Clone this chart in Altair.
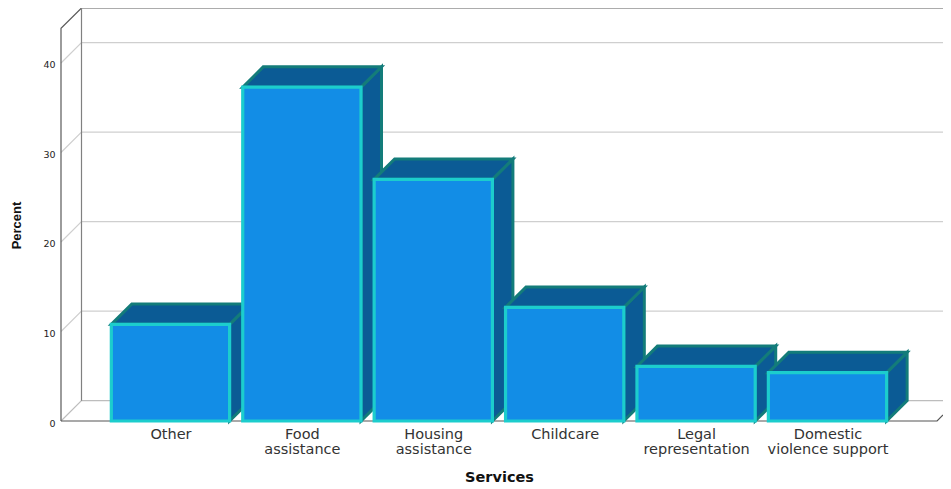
import altair as alt
import pandas as pd

categories = ["Other", "Food\nassistance", "Housing\nassistance", "Childcare",
              "Legal\nrepresentation", "Domestic\nviolence support"]
percents = [10.8, 37.3, 27.0, 12.7, 6.1, 5.4]
y_ticks = [0, 10, 20, 30, 40]

# depth of the pseudo-3D projection and frame limits, in axis units
DX, DY = 0.156, 2.27
HALF = 0.45
X_MIN, X_MAX = -0.833, 5.879
Y_MAX = 46.145
WALL_TOP = Y_MAX - DY
FLOOR_END = 5.834

# --- frame: one polyline per segment
frame = []
def seg(name, kind, pts):
    for i, (x, y) in enumerate(pts):
        frame.append({"seg": name, "kind": kind, "x": x, "y": y, "i": i})

for t in y_ticks[1:]:
    seg(f"g{t}", "grid", [(X_MIN, t), (X_MIN + DX, t + DY), (X_MAX, t + DY)])
seg("floorback", "floor", [(X_MIN, 0), (X_MIN + DX, DY), (X_MAX, DY)])
seg("floorfront", "front", [(X_MIN, 0), (FLOOR_END, 0), (X_MAX, 0.67)])
seg("left", "axis", [(X_MIN, 0), (X_MIN, WALL_TOP), (X_MIN + DX, Y_MAX), (X_MAX, Y_MAX)])
seg("back", "axis2", [(X_MIN + DX, DY), (X_MIN + DX, Y_MAX)])
frame_df = pd.DataFrame(frame)

# --- bars
faces, fronts = [], []
for i, v in enumerate(percents):
    x0, x1 = i - HALF, i + HALF
    fronts.append({"x": x0, "x2": x1, "y": v, "y2": 0})
    top = [(x0, v, v), (x0 + DX, v, v + DY), (x1, v, v + DY), (x1 + DX, v + DY, v + DY)]
    side = [(x1, 0, v), (x1 + DX, DY, v + DY)]
    for x, a, b in side:
        faces.append({"face": f"{i}a", "x": x, "y": a, "y2": b})
    for x, a, b in top:
        faces.append({"face": f"{i}b", "x": x, "y": a, "y2": b})
faces_df = pd.DataFrame(faces)
fronts_df = pd.DataFrame(fronts)

xs = alt.Scale(domain=[X_MIN, X_MAX], nice=False, zero=False)
ys = alt.Scale(domain=[0, Y_MAX], nice=False, zero=False)
names_js = "[" + ",".join("'" + c.replace("\n", "|") + "'" for c in categories) + "]"

x_axis = alt.Axis(
    values=list(range(len(categories))),
    labelExpr=f"split({names_js}[datum.value], '|')",
    domain=False, ticks=False, grid=False,
    labelFont="DejaVu Sans", labelFontSize=14.5, labelColor="#333333",
    labelLineHeight=15, labelPadding=6, labelOverlap=False, labelFlush=False,
    title="Services", titleFont="DejaVu Sans", titleFontSize=14.5, titleFontWeight="bold",
    titleColor="#111111", titleX=438, titleY=60, titleBaseline="alphabetic",
)
y_axis = alt.Axis(
    values=y_ticks, domain=False, ticks=False, grid=False,
    labelFont="DejaVu Sans", labelFontSize=9.5, labelColor="#222222", labelPadding=6,
    labelOffset=2,
    title="Percent", titleFont="Liberation Sans", titleFontSize=13, titleFontWeight="bold",
    titleColor="#111111", titleX=-38, titleY=217, titleAlign="center",
)

kinds = ["grid", "floor", "front", "axis", "axis2"]
kind_colors = ["#CFCFCF", "#BDBDBD", "#555555", "#5A5A5A", "#808080"]

frame_layer = alt.Chart(frame_df).mark_line(clip=False).encode(
    x=alt.X("x:Q", scale=xs, axis=x_axis),
    y=alt.Y("y:Q", scale=ys, axis=y_axis),
    detail="seg:N",
    order="i:Q",
    color=alt.Color("kind:N", scale=alt.Scale(domain=kinds, range=kind_colors), legend=None),
    strokeWidth=alt.StrokeWidth("kind:N", scale=alt.Scale(domain=kinds, range=[1.2, 1.2, 1.4, 1.9, 1.9]), legend=None),
)

face_layer = alt.Chart(faces_df).mark_area(
    fill="#0B5B95", stroke="#137C7A", strokeWidth=3, clip=False, opacity=1
).encode(
    x=alt.X("x:Q", scale=xs, axis=x_axis),
    y=alt.Y("y:Q", scale=ys, axis=y_axis, stack=None),
    y2="y2:Q",
    detail="face:N",
)

front_layer = alt.Chart(fronts_df).mark_rect(
    fill="#128DE6", stroke="#1CCDCD", strokeWidth=3.2, clip=False
).encode(
    x=alt.X("x:Q", scale=xs, axis=x_axis),
    x2="x2:Q",
    y=alt.Y("y:Q", scale=ys, axis=y_axis),
    y2="y2:Q",
)

chart = alt.layer(frame_layer, face_layer, front_layer).properties(
    width=882, height=413,
    padding={"left": 53, "top": 0, "right": 0, "bottom": 65},
    autosize=alt.AutoSizeParams(type="none"),
    background="white",
).configure_view(stroke=None)

chart.save("out.html", embed_options={"renderer": "svg", "actions": False})
